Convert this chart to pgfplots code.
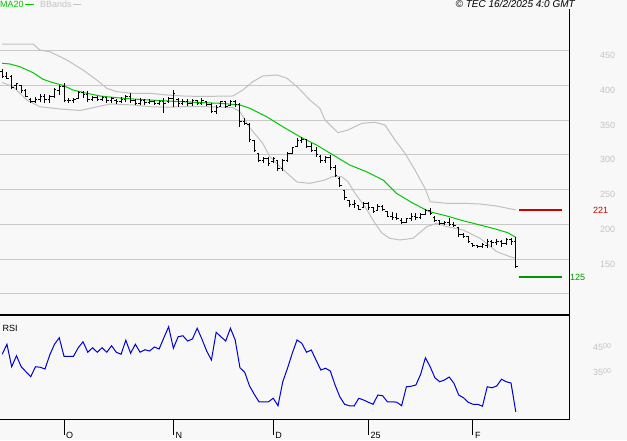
\documentclass[border=0pt]{standalone}
\usepackage{pgfplots}
\pgfplotsset{compat=1.18}
\usepackage{pgfplotstable}
\usepackage{fontspec}
\setmainfont{Liberation Sans}

\definecolor{bg}{RGB}{248,248,248}
\definecolor{gridc}{RGB}{200,200,200}
\definecolor{bandc}{RGB}{192,192,192}
\definecolor{lblc}{RGB}{195,195,195}
\definecolor{mac}{RGB}{0,200,0}
\definecolor{redl}{RGB}{204,0,0}
\definecolor{grnl}{RGB}{0,150,0}
\definecolor{rsic}{RGB}{0,0,210}

% open / close ticks of the bars
\pgfdeclareplotmark{otick}{\pgfpathmoveto{\pgfqpoint{-\pgfplotmarksize}{0pt}}\pgfpathlineto{\pgfqpoint{0pt}{0pt}}\pgfusepathqstroke}
\pgfdeclareplotmark{ctick}{\pgfpathmoveto{\pgfqpoint{0pt}{0pt}}\pgfpathlineto{\pgfqpoint{\pgfplotmarksize}{0pt}}\pgfusepathqstroke}

% daily bars, index 0 = 12 Sep 2024
\pgfplotstableread{
i o h l c
0 420 423 410 412
1 412 419 408.5 410
2 412 414.7 394 396
3 400 402.7 393 402
4 400 401 389 392
5 392 394 382.6 384
6 380 381 374 376
7 376 382.6 374 380
8 380 388 376 384
9 384 388 375 380
10 380 386 375 384
11 384 396 382 394
12 392 400 386 398
13 398 403 376 378
14 378 381.6 375 378
15 378 381 375 380
16 381 391 380 389
17 389 392 382 386
18 386 391 376 380
19 380 384.5 377.7 382
20 382 384 377 380
21 380 385 377 383
22 383 383 375 378
23 378 383.5 374.9 381
24 378 379.7 373 376
25 376 382.6 374 380
26 380 385.9 376.3 384
27 384 389.3 374 378
28 378 379.7 371.6 374
29 374 381.1 371.6 378
30 378 379.7 371.6 375
31 375 379.7 373 377
32 377 378.7 371.6 374
33 374 378.7 371.6 376
34 376 381.1 359.6 374
35 376 383.5 374 381
36 381 393 369 388
37 380 381 369 374
38 374 379.7 371.6 377
39 377 379.7 370 374
40 374 379.7 370 378
41 378 378.7 371.6 374
42 374 381 371.6 378
43 377 377.8 370 372
44 372 374 359.6 362
45 362 371.6 358.2 368
46 370 377.8 369 376
47 376 376.3 366.8 370
48 371 378.7 370 376
49 376 378.7 369 372
50 372 374 340.4 348
51 348 352.4 342.8 345
52 344 345.2 318.9 322
53 320 321.3 304.5 306
54 302 303 290.1 292
55 292 297.3 288.7 294
56 294 296.4 283.9 288
57 290 297.3 288.7 294
58 292 292.5 277.2 280
59 280 293.5 277.2 292
60 292 304.5 290.1 302
61 302 311.7 301.2 310
62 312 323.7 311.7 320
63 320 326 316.5 322
64 322 322.2 309.3 312
65 312 316.5 304.5 306
66 306 311.7 296.4 300
67 298 299.7 287.8 292
68 292 298.3 287.8 296
69 296 299.7 278.2 282
70 282 285.3 267.6 270
71 266 267.6 253.3 256
72 248 249.4 235.1 238
73 234 235.1 225.5 228
74 228 235.1 223.1 230
75 227 227.9 220.7 222
76 224 232.7 223.1 230
77 230 232.7 220.7 224
78 224 225.5 215.9 218
79 220 229.3 219.7 226
80 226 227.9 219.7 222
81 218 219.7 210.2 212
82 212 218.3 206.3 210
83 210 215.9 206.3 208
84 206 208.8 200.1 202
85 202 208.8 201.5 208
86 208 215.9 205.3 212
87 212 215.9 206.3 210
88 210 215.9 207.3 214
89 214 221.7 213.5 220
90 220 223.1 213.5 216
91 210 212.1 203.9 206
92 205 206.3 199.1 201
93 201 205.3 199.1 202
94 202 208.8 197.7 200
95 200 203.9 196.7 198
96 196 196.7 182.3 185
97 185 187.2 180 182
98 182 183.3 172.8 175
99 172 172.8 168 170
100 170 170.4 165.7 168
101 168 172.8 165.7 171
102 170 178.6 165.7 176
103 176 177.6 168 174
104 174 178.6 170.4 176
105 176 177.6 168 172
106 172 180 170.4 178
107 178 180 170.4 176
108 176 181.4 138.4 139
}\ohlc

\begin{document}
\begin{tikzpicture}[font=\fontsize{9}{10}\selectfont]
\useasboundingbox[fill=bg] (0pt,0pt) rectangle (627pt,440pt);

\begin{axis}[
  at={(0pt,125pt)}, anchor=south west,
  scale only axis, width=569.5pt, height=306pt,
  xmin=-0.46, xmax=119.3, ymin=69.8, ymax=509.5,
  axis line style={draw=none},
  xtick=\empty,
  ytick={100,150,...,450},
  yticklabels={,150,200,250,300,350,400,450},
  yticklabel pos=right,
  ymajorgrids, grid style={gridc, line width=1pt},
  major tick length=0pt,
  yticklabel style={anchor=west, inner sep=0pt, xshift=30.5pt, yshift=-5pt,
    text=lblc, font=\fontsize{9}{10}\selectfont},
  clip=false,
]
\addplot[bandc, line width=1pt] coordinates {
(0,459.2) (6.5,459.2) (7.9,450.6) (10.05,448.1) (13.6,436.2) (17,421.8)
(19.9,407.5) (22,395.5) (24.1,390.7) (27.5,388.4) (31.1,388.4) (34.7,385.9)
(38,384.5) (41.6,383.8) (48.5,384.5) (50.6,393.1) (52.7,405) (54.8,413.2)
(57.8,414.7) (59.9,409.9) (62,397.9) (64.7,378.7) (66.8,366.8) (67.9,350)
(70.6,331.8) (72.7,335.6) (75.7,345.3) (78.4,346.7) (80.5,342.8) (82.6,321.3)
(84.7,302.2) (86.8,278.2) (88.9,251.9) (90,232.6) (93.5,230.3) (96.9,230.3)
(100.5,229.3) (104,226.4) (108,220.7)
};
\addplot[bandc, line width=1pt] coordinates {
(0,404) (2.3,397.9) (5.2,378.7) (7.9,369.1) (12.2,365.8) (16.4,363.7)
(19.1,367.7) (22.7,373) (27.5,371.6) (31.1,369.1) (34.7,368.3) (38,369.1)
(41.6,369.4) (48.5,368) (50,361.9) (52.1,338.5) (54.8,316.5) (56.3,297.3)
(58.4,282.9) (62,260.9) (64.7,259) (67.9,263.8) (69.4,268.5) (71.4,268.5)
(72.7,261.4) (74.2,244.7) (76.3,225.4) (78.4,201.6) (79.9,187.2) (81.5,180)
(83.6,177.6) (86.4,180) (89.3,196.7) (91.4,201.6) (93.5,196.7) (96.9,192)
(100.5,180) (104,160.8) (106.8,153.6) (108,151.3)
};
\addplot[mac, line width=1pt] coordinates {
(0,431.5) (1.6,430.5) (3.7,426.6) (6.5,418) (8.6,408.5) (10.7,403.6)
(12.6,400.3) (14.9,393.1) (17.8,388.4) (20.6,384.5) (24.1,382) (27.5,380.2)
(31.1,378.7) (34.7,377.3) (38,376.3) (41.6,375.1) (45.8,374) (50,371.6)
(52.1,366.8) (55.6,354.7) (59,340.4) (62.6,326) (66.1,314.1) (69.6,299.7)
(73.1,285.3) (76.6,275.7) (80.1,263.8) (82.9,244.7) (86.4,230.3) (89.9,218.2)
(93.5,212.1) (96.9,205.3) (100.5,199.1) (103.9,193) (106.3,188.1) (108,181.5)
};
% high-low bars with close tick
\addplot[black, only marks, mark=ctick, mark size=2pt, mark options={line width=1pt},
  error bars/.cd, y dir=both, y explicit, error mark=none,
  error bar style={line width=1pt, black}]
  table[x=i, y=c, y error plus expr=\thisrow{h}-\thisrow{c},
        y error minus expr=\thisrow{c}-\thisrow{l}] {\ohlc};
% open tick
\addplot[black, only marks, mark=otick, mark size=2pt, mark options={line width=1pt}]
  table[x=i, y=o] {\ohlc};
% levels
\addplot[redl, line width=2pt] coordinates {(108.66,221) (117.7,221)};
\addplot[grnl, line width=2pt] coordinates {(108.66,125) (117.7,125)};
\node[anchor=west, inner sep=0pt, text=redl] at (axis cs:124.2,219.5) {221};
\node[anchor=west, inner sep=0pt, text=grnl] at (axis cs:119.4,123.5) {125};
\draw[line width=2pt] (rel axis cs:0,0) -- (rel axis cs:1,0);
\draw[line width=1pt] (rel axis cs:1,0) -- (rel axis cs:1,1);
\end{axis}

\begin{axis}[
  at={(0pt,21pt)}, anchor=south west,
  scale only axis, width=569.5pt, height=104pt,
  xmin=-0.46, xmax=119.3, ymin=14.2, ymax=55.8,
  axis line style={draw=none},
  xtick={13,36,57,77,99}, xticklabels={O,N,D,25,F},
  xtick pos=lower, tick align=outside, major tick length=16pt,
  xtick style={black, line width=1pt},
  xticklabel style={anchor=base west, inner sep=0pt, xshift=2pt, yshift=-3pt,
    font=\fontsize{9}{10}\selectfont},
  ytick={35,45},
  yticklabels={35{\fontsize{7}{7}\selectfont\raisebox{2.5pt}{00}},45{\fontsize{7}{7}\selectfont\raisebox{2.5pt}{00}}},
  yticklabel pos=right, ytick style={draw=none},
  yticklabel style={anchor=west, inner sep=0pt, xshift=7.5pt, yshift=-5pt,
    text=lblc, font=\fontsize{9}{10}\selectfont},
  clip=false,
]
\addplot[rsic, line width=1pt] coordinates {
(0,40.1) (1,44.1) (2,35.1) (3,39.5) (4,35.1) (5,33.1) (6,31.1) (7,35.1) (8,34.9)
(9,34.2) (10,39.8) (11,44.1) (12,46.7) (13,39.3) (14,39.3) (15,39.3) (16,42.7)
(17,45.1) (18,40.9) (19,42.7) (20,40.9) (21,42.7) (22,40.9) (23,43.5) (24,40.9)
(25,40.1) (26,45.7) (27,40.5) (28,44.1) (29,40.9) (30,41.9) (31,41.4) (32,43.0)
(33,42.2) (34,46.7) (35,51.1) (36,42.5) (37,47.1) (38,47.5) (39,45.4) (40,46.2)
(41,50.5) (42,46.2) (43,41.4) (44,37.8) (45,48.9) (46,47.1) (47,45.4) (48,50.5)
(49,45.8) (50,34.7) (51,32.9) (52,27.5) (53,24.1) (54,21.1) (55,21.1) (56,21.1)
(57,22.5) (58,19.5) (59,29.1) (60,34.5) (61,40.5) (62,45.8) (63,44.5) (64,40.9)
(65,41.8) (66,37.8) (67,33.8) (68,34.5) (69,33.4) (70,27.8) (71,23.1) (72,20.1)
(73,19.5) (74,19.4) (75,22.5) (76,21.8) (77,20.9) (78,20.1) (79,23.8) (80,23.5)
(81,21.1) (82,21.1) (83,20.9) (84,19.5) (85,27.1) (86,27.3) (87,27.8) (88,32.1)
(89,38.7) (90,35.1) (91,30.7) (92,29.1) (93,29.8) (94,31.0) (95,28.5) (96,23.8)
(97,22.7) (98,20.9) (99,20.1) (100,20.1) (101,19.3) (102,27.1) (103,26.7)
(104,27.4) (105,30.1) (106,29.1) (107,28.6) (108,17.1)
};
\draw[line width=1pt] (rel axis cs:0,0) -- (rel axis cs:1,0) -- (rel axis cs:1,1);
\end{axis}

% header texts
\node[anchor=base west, inner sep=0pt, text=mac] at (0pt,432pt) {MA20};
\draw[mac, line width=1pt] (25pt,435pt) -- (34pt,435pt);
\node[anchor=base west, inner sep=0pt, text=lblc] at (40pt,432pt) {BBands};
\draw[lblc, line width=1pt] (73pt,435pt) -- (81pt,435pt);
\node[anchor=base east, inner sep=0pt, font=\fontsize{10}{11}\selectfont\itshape] at (575pt,432pt) {© TEC 16/2/2025 4:0 GMT};
\node[anchor=base west, inner sep=0pt] at (2.5pt,109pt) {RSI};
\end{tikzpicture}
\end{document}
